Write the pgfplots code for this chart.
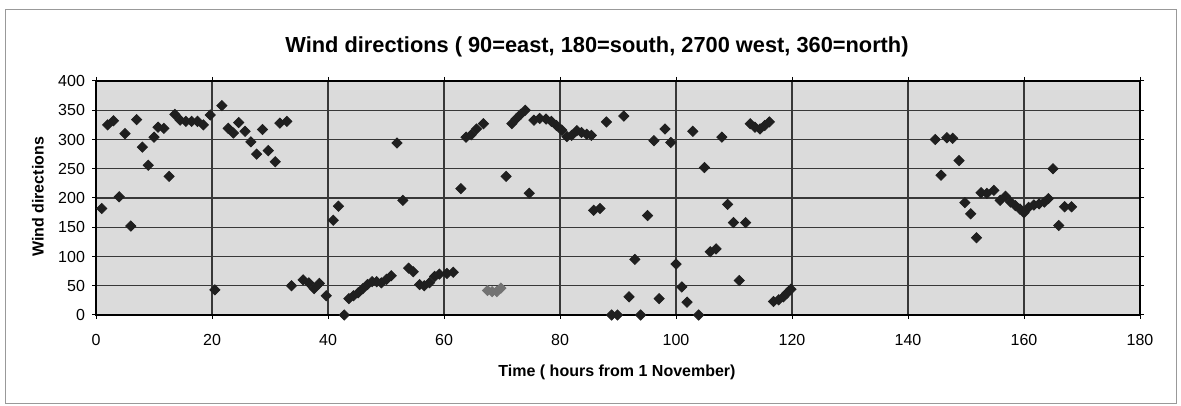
\documentclass[border=0pt]{standalone}
\usepackage{pgfplots}
\pgfplotsset{compat=1.18}
\usepackage{pgfplotstable}
\usepackage{fontspec}
\setmainfont{Liberation Sans}
\pgfplotstableread{
x y
1 182
2 325
3 332
4 202
5 310
6 152
7 334
8 287
9 256
10 304
10.7 321
11.7 319
12.6 237
13.6 343
14.5 333
15.5 331
16.5 331
17.5 331
18.5 325
19.7 342
20.5 43
21.7 358
22.8 319
23.7 311
24.6 329
25.7 314
26.7 296
27.7 275
28.7 317
29.7 281
30.9 262
31.7 328
32.9 331
33.7 50
35.7 60
36.7 55
37.6 45
38.5 54
39.7 33
40.9 162
41.8 186
42.8 0
43.6 28
44.4 33
45.2 38
46.0 45
46.8 52
47.6 57
48.4 57
49.2 55
50.1 61
50.9 67
51.9 294
52.9 196
53.9 80
54.7 74
55.8 52
56.6 50
57.5 55
58.4 66
59.2 70
60.5 71
61.6 73
62.9 216
63.8 304
64.7 308
65.6 318
66.8 327
70.7 237
71.7 327
72.4 335
73.2 343
74.0 350
74.7 208
75.5 333
76.5 336
77.6 335
78.5 331
79.4 324
80.3 316
81.2 305
82.0 307
82.9 315
83.7 312
84.6 309
85.4 307
85.8 179
86.9 182
88.0 330
88.9 0
89.9 0
91.0 340
91.9 31
92.9 95
93.9 0
95.1 170
96.2 298
97.1 28
98.1 318
99.1 295
100.0 87
101.0 48
101.9 22
102.9 314
103.9 0
104.9 252
105.9 108
106.9 113
107.9 304
108.9 189
109.9 158
110.9 59
112.0 158
112.8 327
113.6 321
114.5 318
115.3 324
116.1 330
116.8 23
117.7 26
118.5 31
119.1 37
119.8 44
144.7 300
145.7 239
146.7 303
147.7 302
148.8 264
149.8 192
150.8 173
151.8 132
152.6 209
153.6 208
154.8 213
155.9 196
156.8 203
157.7 193
158.5 187
159.3 181
160.0 175
160.8 184
161.7 188
162.6 190
163.5 193
164.2 199
165.0 250
166.0 153
167.0 185
168.2 185
}\blackdata
\pgfplotstableread{
x y
67.5 42
68.3 40
69.1 40
69.8 46
}\graydata
\begin{document}
\begin{tikzpicture}
\path[use as bounding box] (0,0) rectangle (590.5pt,203pt);
\draw[black!40, line width=0.5pt] (2.5pt,1pt) rectangle (588pt,198pt);
\begin{axis}[
  at={(48pt,45.5pt)}, anchor=south west,
  scale only axis, width=522pt, height=117pt,
  xmin=0, xmax=180, ymin=0, ymax=400,
  xtick={0,20,...,180}, ytick={0,50,...,400},
  grid=major, major grid style={black!78, line width=0.65pt},
  axis line style={black, line width=0.9pt},
  axis background/.style={fill=black!14},
  tick align=outside, major tick length=2pt,
  tick style={black, line width=0.5pt},
  tick label style={font=\fontsize{8}{9.6}\selectfont},
  xticklabel style={yshift=-4pt},
  /pgf/number format/assume math mode=true,
  clip=false,
]
\addplot[only marks, mark=square*, mark size=1.8pt,
  mark options={rotate=45, fill=black!88, draw=black!88}] table[x=x,y=y] {\blackdata};
\addplot[only marks, mark=square*, mark size=1.8pt,
  mark options={rotate=45, fill=black!55, draw=black!55}] table[x=x,y=y] {\graydata};
\end{axis}
\node[font=\bfseries\fontsize{10.9}{13}\selectfont] at (298.5pt,179.5pt) {Wind directions ( 90=east, 180=south, 2700 west, 360=north)};
\node[font=\bfseries\fontsize{8}{9.6}\selectfont] at (308.5pt,17pt) {Time ( hours from 1 November)};
\node[font=\bfseries\fontsize{8}{9.6}\selectfont, rotate=90] at (19pt,104.5pt) {Wind directions};
\end{tikzpicture}
\end{document}
